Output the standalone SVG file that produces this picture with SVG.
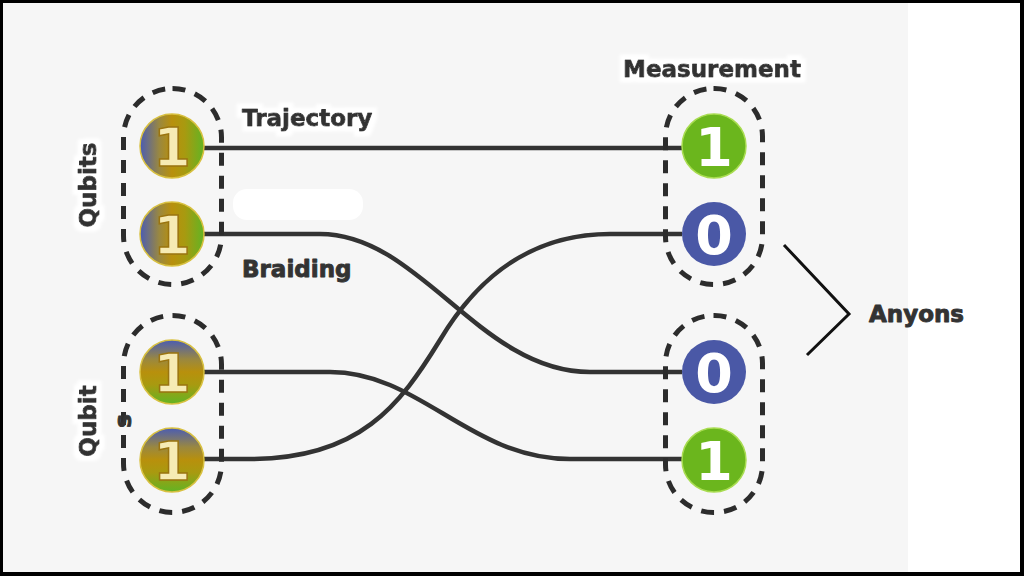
<svg xmlns="http://www.w3.org/2000/svg" width="1024" height="576" viewBox="0 0 1024 576">
  <defs>
    <linearGradient id="gH" x1="0" y1="0" x2="1" y2="0">
      <stop offset="0" stop-color="#4a5cb4"/>
      <stop offset="0.3" stop-color="#9a8840"/>
      <stop offset="0.5" stop-color="#b8900c"/>
      <stop offset="0.7" stop-color="#a89a10"/>
      <stop offset="1" stop-color="#62b423"/>
    </linearGradient>
    <linearGradient id="gV" x1="0" y1="0" x2="0" y2="1">
      <stop offset="0" stop-color="#4a5cb4"/>
      <stop offset="0.3" stop-color="#9a8840"/>
      <stop offset="0.5" stop-color="#b8900c"/>
      <stop offset="0.7" stop-color="#a89a10"/>
      <stop offset="1" stop-color="#62b423"/>
    </linearGradient>
    <filter id="halo" x="-20%" y="-40%" width="140%" height="180%">
      <feMorphology in="SourceAlpha" operator="dilate" radius="5" result="d"/>
      <feGaussianBlur in="d" stdDeviation="1.5" result="b"/>
      <feFlood flood-color="#fff"/>
      <feComposite in2="b" operator="in" result="w"/>
      <feMerge>
        <feMergeNode in="w"/>
        <feMergeNode in="SourceGraphic"/>
      </feMerge>
    </filter>
    <style>
      .frame{fill:none;stroke:#2c2c2c;stroke-width:5;stroke-dasharray:13 10}
      .wire{fill:none;stroke:#333;stroke-width:4.5}
      .lbl{font-family:"DejaVu Sans","Liberation Sans",sans-serif;font-weight:bold;font-size:23px;fill:#333;stroke:#333;stroke-width:0.9;stroke-linejoin:round}
      .qd{font-family:"DejaVu Sans","Liberation Sans",sans-serif;font-weight:bold;font-size:54px;text-anchor:middle;fill:#f6ebb4;stroke:#9a7410;stroke-width:1.5}
      .md{font-family:"DejaVu Sans","Liberation Sans",sans-serif;font-weight:bold;font-size:54px;text-anchor:middle;fill:#fff}
      .qc{stroke:#d8c040;stroke-width:1.5}
    </style>
  </defs>
  <rect x="0" y="0" width="1024" height="576" fill="#000"/>
  <rect x="3" y="3" width="1017" height="569" fill="#fff"/>
  <rect x="3" y="3" width="905" height="569" fill="#f6f6f6"/>

  <g id="connectors">
    <path class="wire" d="M203,148 H682"/>
    <path class="wire" d="M203,234 H320 C420,234 480,372 590,372 H682"/>
    <path class="wire" d="M682,234 H610 C520,234 470,290 440,340 C400,405 360,459 250,459 H203"/>
    <path class="wire" d="M203,372 H330 C420,372 470,459 570,459 H682"/>
    <path d="M784,245 L849,314 L807,355" fill="none" stroke="#111" stroke-width="3"/>
  </g>

  <g id="qubits-top">
    <rect class="frame" x="123.5" y="88.5" width="98" height="196" rx="49" ry="49"/>
    <g id="q1">
      <circle class="qc" cx="172" cy="146" r="32" fill="url(#gH)"/>
      <text class="qd" x="172" y="166">1</text>
    </g>
    <g id="q2">
      <circle class="qc" cx="172" cy="234" r="32" fill="url(#gH)"/>
      <text class="qd" x="172" y="254">1</text>
    </g>
  </g>

  <g id="qubits-bottom">
    <rect class="frame" x="123.5" y="315.5" width="98" height="197" rx="49" ry="49"/>
    <g id="q3">
      <circle class="qc" cx="172" cy="372" r="32" fill="url(#gV)"/>
      <text class="qd" x="172" y="392">1</text>
    </g>
    <g id="q4">
      <circle class="qc" cx="172" cy="460" r="32" fill="url(#gV)"/>
      <text class="qd" x="172" y="480">1</text>
    </g>
  </g>

  <g id="measure-top">
    <rect class="frame" x="665.5" y="88.5" width="97" height="196" rx="48" ry="48"/>
    <g id="m1">
      <circle cx="714" cy="146" r="32" fill="#6bb61d" stroke="#a8dc50" stroke-width="1.5"/>
      <text class="md" x="714" y="166">1</text>
    </g>
    <g id="m2">
      <circle cx="714" cy="234" r="32" fill="#4a58a6"/>
      <text class="md" x="714" y="254">0</text>
    </g>
  </g>

  <g id="measure-bottom">
    <rect class="frame" x="665.5" y="315.5" width="97" height="197" rx="48" ry="48"/>
    <g id="m3">
      <circle cx="714" cy="372" r="32" fill="#4a58a6"/>
      <text class="md" x="714" y="392">0</text>
    </g>
    <g id="m4">
      <circle cx="714" cy="460" r="32" fill="#6bb61d" stroke="#a8dc50" stroke-width="1.5"/>
      <text class="md" x="714" y="480">1</text>
    </g>
  </g>

  <g id="labels">
    <rect x="233" y="189" width="130" height="31" rx="14" fill="#fff"/>
    <text class="lbl" x="712" y="77" text-anchor="middle" filter="url(#halo)">Measurement</text>
    <text class="lbl" x="242" y="126" filter="url(#halo)">Trajectory</text>
    <text class="lbl" x="242" y="277">Braiding</text>
    <text class="lbl" x="869" y="322">Anyons</text>
    <text class="lbl" transform="translate(96,185) rotate(-90)" text-anchor="middle" filter="url(#halo)">Qubits</text>
    <text class="lbl" transform="translate(96,421) rotate(-90)" text-anchor="middle" filter="url(#halo)">Qubit</text>
    <text class="lbl" transform="translate(131,421) rotate(-90)" text-anchor="middle">s</text>
  </g>
</svg>
